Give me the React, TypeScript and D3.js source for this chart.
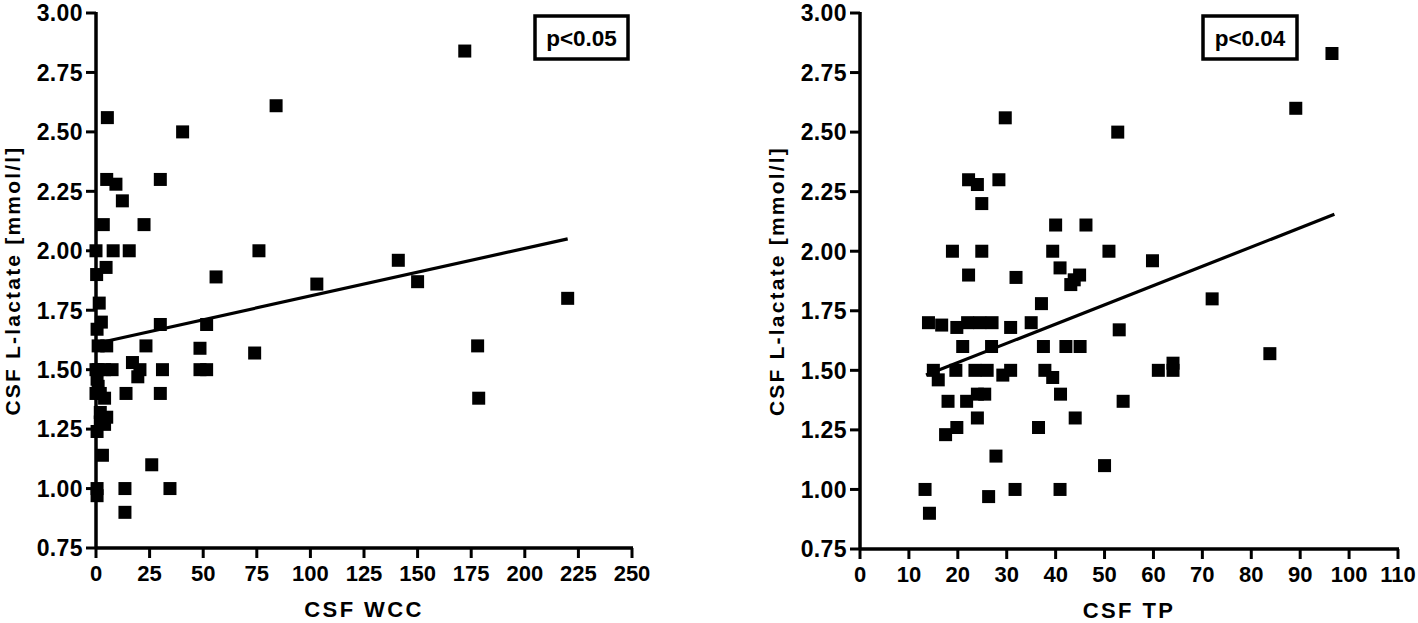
import React from "react";
import * as d3 from "d3";

// ---------- DATA ----------
const yTicks = [0.75, 1.0, 1.25, 1.5, 1.75, 2.0, 2.25, 2.5, 2.75, 3.0];
const wccTicks = [0, 25, 50, 75, 100, 125, 150, 175, 200, 225, 250];
const tpTicks = [0, 10, 20, 30, 40, 50, 60, 70, 80, 90, 100, 110];

// CSF WCC vs CSF L-lactate
const wccX = [
  172, 84, 40.4, 5.3, 30, 5, 9.3, 12.3, 3.4, 22.4, 0, 8, 15.5, 76, 4.7, 0.3, 56, 103, 141, 150,
  220, 1.5, 0.5, 2.5, 30, 51.6, 1, 5, 23.3, 48.5, 178, 74, 17, 20.5, 19.5, 31, 48.5, 51.6, 1, 4,
  7.5, 0.5, 1, 2, 4, 14, 30, 178.5, 2, 5, 4, 0.5, 3, 26, 0.5, 0.5, 13.5, 34.5, 13.5, 0, 0, 2,
];
const wccY = [
  2.84, 2.61, 2.5, 2.56, 2.3, 2.3, 2.28, 2.21, 2.11, 2.11, 2.0, 2.0, 2.0, 2.0, 1.93, 1.9, 1.89, 1.86, 1.96, 1.87,
  1.8, 1.78, 1.67, 1.7, 1.69, 1.69, 1.6, 1.6, 1.6, 1.59, 1.6, 1.57, 1.53, 1.5, 1.47, 1.5, 1.5, 1.5, 1.5, 1.5,
  1.5, 1.46, 1.43, 1.4, 1.38, 1.4, 1.4, 1.38, 1.32, 1.3, 1.27, 1.24, 1.14, 1.1, 1.0, 0.97, 1.0, 1.0, 0.9, 1.5, 1.4, 1.28,
];

// CSF TP vs CSF L-lactate
const tpX = [
  96.5, 89.1, 52.7, 29.7, 22.2, 24, 24.9, 28.4, 18.9, 24.9, 22.2, 31.9, 37.1, 40, 46.2, 39.4, 50.9, 59.8, 40.9, 44.9,
  43.8, 43.1, 72, 53, 37.5, 42.1, 45, 37.8, 39.4, 61, 64, 64, 41, 53.8, 44, 83.8, 50, 14, 16.7, 19.8,
  22, 24.5, 27, 30.8, 35, 21, 26.9, 15, 16, 19.6, 23.5, 26, 29.2, 30.8, 18, 21.8, 24, 25.5, 24, 19.8,
  17.5, 36.5, 27.8, 13.3, 14.2, 26.3, 31.7, 40.9,
];
const tpY = [
  2.83, 2.6, 2.5, 2.56, 2.3, 2.28, 2.2, 2.3, 2.0, 2.0, 1.9, 1.89, 1.78, 2.11, 2.11, 2.0, 2.0, 1.96, 1.93, 1.9,
  1.88, 1.86, 1.8, 1.67, 1.6, 1.6, 1.6, 1.5, 1.47, 1.5, 1.53, 1.5, 1.4, 1.37, 1.3, 1.57, 1.1, 1.7, 1.69, 1.68,
  1.7, 1.7, 1.7, 1.68, 1.7, 1.6, 1.6, 1.5, 1.46, 1.5, 1.5, 1.5, 1.48, 1.5, 1.37, 1.37, 1.4, 1.4, 1.3, 1.26,
  1.23, 1.26, 1.14, 1.0, 0.9, 0.97, 1.0, 1.0,
];

// regression line end points [x, y]
const wccFit: [number, number][] = [[0, 1.61], [220, 2.05]];
const tpFit: [number, number][] = [[13.5, 1.48], [97, 2.155]];

const panels = [
  { xs: wccX, ys: wccY, fit: wccFit, xTicks: wccTicks, xDomain: [0, 250], xRange: [96, 632], yRange: [548, 13], xLabel: "CSF WCC", p: "p<0.05", box: [535, 628] },
  { xs: tpX, ys: tpY, fit: tpFit, xTicks: tpTicks, xDomain: [0, 110], xRange: [860, 1398], yRange: [549, 13], xLabel: "CSF TP", p: "p<0.04", box: [1203, 1297] },
];

const FONT = "'Liberation Sans', Arial, Helvetica, sans-serif";
const yFmt = d3.format(".2f");

function Panel({ cfg }: { cfg: (typeof panels)[number] }) {
  const x = d3.scaleLinear().domain(cfg.xDomain).range(cfg.xRange);
  const y = d3.scaleLinear().domain([0.75, 3.0]).range(cfg.yRange);
  const x0 = cfg.xRange[0];
  const y0 = cfg.yRange[0];
  const sw = 3.5;
  const ms = 13;
  const line = d3.line<[number, number]>().x((d) => x(d[0])).y((d) => y(d[1]));
  const yMid = (cfg.yRange[0] + cfg.yRange[1]) / 2;
  const xMid = (cfg.xRange[0] + cfg.xRange[1]) / 2;
  return (
    <g fontFamily={FONT} fontWeight="bold" fill="#000">
      {/* points */}
      {cfg.xs.map((v, i) => (
        <rect key={i} x={x(v) - ms / 2} y={y(cfg.ys[i]) - ms / 2} width={ms} height={ms} fill="#000" />
      ))}
      {/* regression line */}
      <path d={line(cfg.fit) || ""} stroke="#000" strokeWidth={3.2} fill="none" />
      {/* y axis */}
      <line x1={x0} x2={x0} y1={cfg.yRange[1] - 1} y2={y0 + 1} stroke="#000" strokeWidth={sw} />
      {yTicks.map((t) => (
        <g key={t}>
          <line x1={x0 - 10} x2={x0} y1={y(t)} y2={y(t)} stroke="#000" strokeWidth={3} />
          <text x={x0 - 13} y={y(t)} dy="0.36em" textAnchor="end" fontSize={23} letterSpacing={0.4}>
            {yFmt(t)}
          </text>
        </g>
      ))}
      {/* x axis */}
      <line x1={x0 - 1} x2={cfg.xRange[1] + 1} y1={y0} y2={y0} stroke="#000" strokeWidth={sw} />
      {cfg.xTicks.map((t) => (
        <g key={t}>
          <line x1={x(t)} x2={x(t)} y1={y0} y2={y0 + 10} stroke="#000" strokeWidth={3} />
          <text x={x(t)} y={y0 + 33} textAnchor="middle" fontSize={22}>
            {t}
          </text>
        </g>
      ))}
      {/* axis labels */}
      <text x={xMid} y={y0 + 69} textAnchor="middle" fontSize={22} letterSpacing={2.4}>
        {cfg.xLabel}
      </text>
      <text
        transform={`translate(${x0 - 76},${yMid}) rotate(-90)`}
        textAnchor="middle"
        fontSize={21}
        letterSpacing={2.2}
      >
        CSF L-lactate [mmol/l]
      </text>
      {/* p-value box */}
      <rect x={cfg.box[0]} y={16} width={cfg.box[1] - cfg.box[0]} height={43} fill="#fff" stroke="#000" strokeWidth={3.5} />
      <text x={(cfg.box[0] + cfg.box[1]) / 2} y={45.5} textAnchor="middle" fontSize={22.5}>
        {cfg.p}
      </text>
    </g>
  );
}

export default function App() {
  return (
    <svg
      width={1418}
      height={623}
      viewBox="0 0 1418 623"
      style={{ position: "absolute", left: 0, top: 0, background: "#fff" }}
    >
      <rect width={1418} height={623} fill="#fff" />
      {panels.map((p, i) => (
        <Panel key={i} cfg={p} />
      ))}
    </svg>
  );
}
